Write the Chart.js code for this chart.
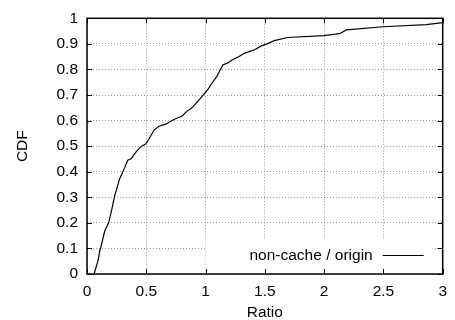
<!DOCTYPE html>
<html>
<head>
<meta charset="utf-8">
<script src="https://cdn.jsdelivr.net/npm/chart.js@4.4.1/dist/chart.umd.min.js"></script>
<style>
  html, body { margin: 0; padding: 0; background: #fff; }
  #wrap { width: 455px; height: 320px; }
</style>
</head>
<body>
<div id="wrap"><canvas id="chart1"></canvas></div>
<script>
const ratio = [0.06, 0.094, 0.108, 0.117, 0.15, 0.183, 0.206, 0.233, 0.275, 0.317,
    0.344, 0.372, 0.414, 0.456, 0.497, 0.525, 0.567, 0.608, 0.664, 0.733,
    0.803, 0.844, 0.886, 0.942, 0.99, 1.025, 1.053, 1.094, 1.122, 1.147,
    1.192, 1.22, 1.275, 1.331, 1.414, 1.47, 1.519, 1.58, 1.69, 1.997,
    2.1, 2.136, 2.19, 2.497, 2.86, 3.0];
const cdf = [0, 0.054, 0.092, 0.105, 0.169, 0.201, 0.246, 0.305, 0.372, 0.415,
    0.445, 0.451, 0.478, 0.499, 0.509, 0.53, 0.564, 0.578, 0.586, 0.604,
    0.618, 0.637, 0.65, 0.679, 0.705, 0.725, 0.746, 0.772, 0.797, 0.818,
    0.826, 0.836, 0.849, 0.864, 0.877, 0.892, 0.9, 0.913, 0.925, 0.932,
    0.938, 0.941, 0.955, 0.967, 0.975, 0.983];
const xTicks = [0, 0.5, 1, 1.5, 2, 2.5, 3];
const yTicks = [0, 0.1, 0.2, 0.3, 0.4, 0.5, 0.6, 0.7, 0.8, 0.9, 1];
const seriesName = 'non-cache / origin';

const font = { family: "'Liberation Sans', Arial, sans-serif", size: 15.5 };

// gnuplot style: white key box, inward ticks on all sides, black frame
const gnuplotBits = {
    id: 'gnuplotBits',
    beforeDatasetsDraw(chart) {
        const { ctx, chartArea: a } = chart;
        ctx.save();
        ctx.fillStyle = '#fff';
        ctx.fillRect(a.right - 237, a.bottom - 34, 227, 33);
        ctx.fillStyle = '#000';
        ctx.font = font.size + 'px ' + font.family;
        ctx.textAlign = 'right';
        ctx.textBaseline = 'middle';
        ctx.fillText(chart.data.datasets[0].label, a.right - 70, a.bottom - 18);
        ctx.strokeStyle = '#000';
        ctx.lineWidth = 1.2;
        ctx.beginPath();
        ctx.moveTo(a.right - 60, a.bottom - 18.5);
        ctx.lineTo(a.right - 19, a.bottom - 18.5);
        ctx.stroke();
        ctx.restore();
    },
    afterDatasetsDraw(chart) {
        const { ctx, chartArea: a, scales } = chart;
        ctx.save();
        ctx.strokeStyle = '#000';
        ctx.lineWidth = 1;
        ctx.beginPath();
        xTicks.forEach(v => {
            const px = Math.round(scales.x.getPixelForValue(v)) + 0.5;
            ctx.moveTo(px, a.bottom); ctx.lineTo(px, a.bottom - 5);
            ctx.moveTo(px, a.top); ctx.lineTo(px, a.top + 5);
        });
        yTicks.forEach(v => {
            const py = Math.round(scales.y.getPixelForValue(v)) + 0.5;
            ctx.moveTo(a.left, py); ctx.lineTo(a.left + 5, py);
            ctx.moveTo(a.right, py); ctx.lineTo(a.right - 5, py);
        });
        ctx.stroke();
        ctx.lineWidth = 1.5;
        ctx.strokeRect(a.left, a.top, a.right - a.left, a.bottom - a.top);
        ctx.restore();
    }
};

const data = {
    datasets: [{
        label: seriesName,
        data: ratio.map((r, i) => ({ x: r, y: cdf[i] })),
        borderColor: '#000',
        backgroundColor: '#000',
        borderWidth: 1.2,
        pointRadius: 0,
        tension: 0,
        fill: false
    }]
};

const config = {
    type: 'line',
    data,
    options: {
        animation: false,
        responsive: true,
        maintainAspectRatio: false,
        layout: { padding: { top: 14, right: 8, left: 0, bottom: 0 } },
        plugins: {
            legend: { display: false },
            tooltip: { enabled: false }
        },
        scales: {
            x: {
                type: 'linear',
                min: 0,
                max: 3,
                afterFit(scale) { scale.height = 46; },
                afterBuildTicks(scale) { scale.ticks = xTicks.map(v => ({ value: v })); },
                grid: { color: '#999', drawTicks: false, lineWidth: 1 },
                border: { display: false, dash: [1, 2] },
                ticks: {
                    color: '#000',
                    font,
                    padding: 8,
                    maxRotation: 0,
                    callback: v => String(v)
                },
                title: {
                    display: true,
                    text: 'Ratio',
                    color: '#000',
                    font: { ...font, lineHeight: 1 },
                    padding: { top: 0, bottom: 0 }
                }
            },
            y: {
                min: 0,
                max: 1,
                afterFit(scale) { scale.width = 87; },
                afterBuildTicks(scale) { scale.ticks = yTicks.map(v => ({ value: v })); },
                grid: { color: '#999', drawTicks: false, lineWidth: 1 },
                border: { display: false, dash: [1, 2] },
                ticks: {
                    color: '#000',
                    font,
                    padding: 9,
                    callback: v => String(Math.round(v * 10) / 10)
                },
                title: {
                    display: true,
                    text: 'CDF',
                    color: '#000',
                    font: { ...font, lineHeight: 1 },
                    padding: { top: 15, bottom: 0 }
                }
            }
        }
    },
    plugins: [gnuplotBits]
};

let chart1 = new Chart(document.getElementById('chart1'), config);
</script>
</body>
</html>
